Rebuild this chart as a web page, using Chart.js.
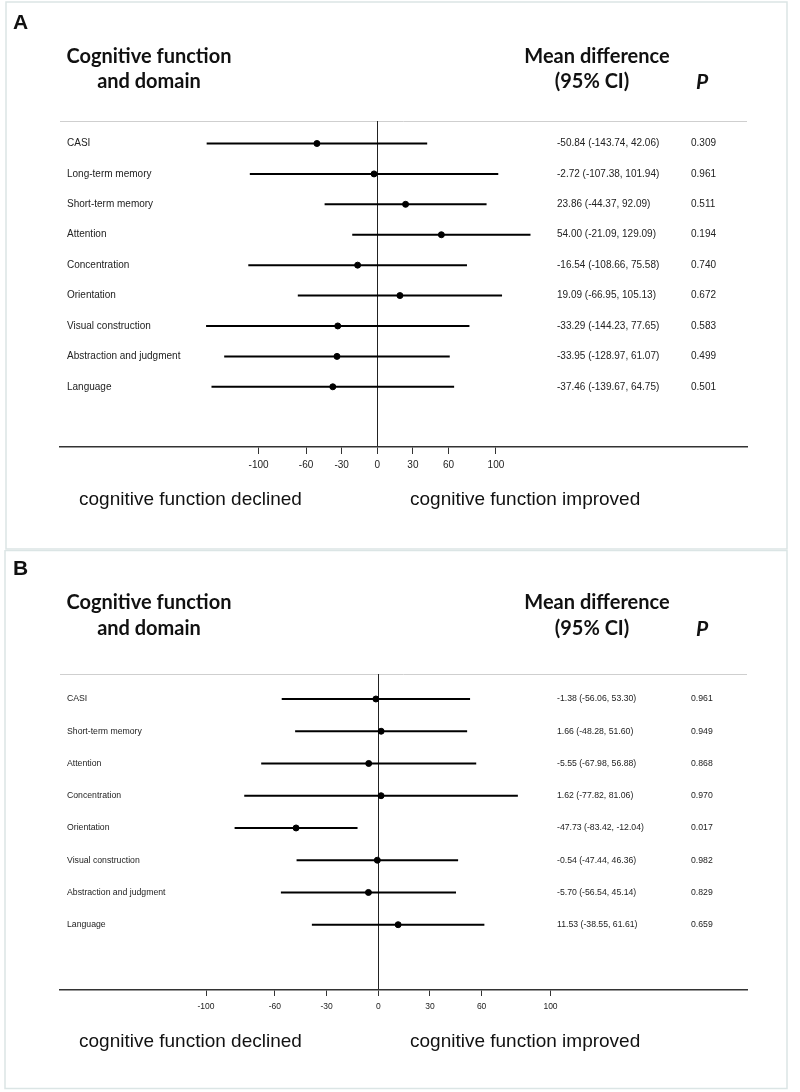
<!DOCTYPE html>
<html>
<head>
<meta charset="utf-8">
<script src="https://cdn.jsdelivr.net/npm/chart.js@4"></script>
<style>
    body { margin: 0; background: #fff; }
    canvas { position: absolute; left: 0; }
</style>
</head>
<body>
<canvas id="chartA" width="800" height="550" style="top:0"></canvas>
<canvas id="chartB" width="800" height="542" style="top:550px"></canvas>
<script>
// Panel A data
const domainsA = ['CASI', 'Long-term memory', 'Short-term memory', 'Attention', 'Concentration', 'Orientation', 'Visual construction', 'Abstraction and judgment', 'Language'];
const meanA = [-50.84, -2.72, 23.86, 54.00, -16.54, 19.09, -33.29, -33.95, -37.46];
const lowerA = [-143.74, -107.38, -44.37, -21.09, -108.66, -66.95, -144.23, -128.97, -139.67];
const upperA = [42.06, 101.94, 92.09, 129.09, 75.58, 105.13, 77.65, 61.07, 64.75];
const pA = ['0.309', '0.961', '0.511', '0.194', '0.740', '0.672', '0.583', '0.499', '0.501'];

// Panel B data
const domainsB = ['CASI', 'Short-term memory', 'Attention', 'Concentration', 'Orientation', 'Visual construction', 'Abstraction and judgment', 'Language'];
const meanB = [-1.38, 1.66, -5.55, 1.62, -47.73, -0.54, -5.70, 11.53];
const lowerB = [-56.06, -48.28, -67.98, -77.82, -83.42, -47.44, -56.54, -38.55];
const upperB = [53.30, 51.60, 56.88, 81.06, -12.04, 46.36, 45.14, 61.61];
const pB = ['0.961', '0.949', '0.868', '0.970', '0.017', '0.982', '0.829', '0.659'];

const xTicks = [-100, -60, -30, 0, 30, 60, 100];

function fmt(v) { return v.toFixed(2); }

function makePanel(canvasId, o) {
    // one short line per row for the CI, drawn on the linear scales
    const ciSets = o.domains.map((d, i) => ({
        type: 'line',
        data: [{ x: o.lower[i], y: i }, { x: o.upper[i], y: i }],
        borderColor: '#000',
        borderWidth: 2,
        pointRadius: 0,
        order: 1
    }));

    const pointSet = {
        type: 'scatter',
        data: o.mean.map((m, i) => ({ x: m, y: i })),
        backgroundColor: '#000',
        borderColor: '#000',
        pointStyle: 'circle',
        pointRadius: 3,
        order: 0
    };

    const textPlugin = {
        id: 'forestText',
        beforeDraw(chart) {
            const ctx = chart.ctx;
            ctx.save();
            ctx.strokeStyle = '#dbe5e5';
            ctx.lineWidth = 1.5;
            ctx.strokeRect(o.box[0], o.box[1], o.box[2], o.box[3]);
            // header rule
            const a = chart.chartArea;
            ctx.strokeStyle = '#cfcfcf';
            ctx.lineWidth = 1;
            ctx.beginPath();
            ctx.moveTo(a.left, a.top + 0.5);
            ctx.lineTo(a.right, a.top + 0.5);
            ctx.stroke();
            ctx.restore();
        },
        afterDraw(chart) {
            const ctx = chart.ctx;
            const y = chart.scales.y;
            ctx.save();
            ctx.fillStyle = '#111';
            ctx.textBaseline = 'middle';

            // panel letter
            ctx.textAlign = 'left';
            ctx.font = 'bold 21px "Liberation Sans"';
            ctx.fillText(o.letter, 13, o.letterY);

            // column headings
            ctx.textAlign = 'center';
            ctx.font = 'bold 20px Lato';
            ctx.fillText('Cognitive function', 149, o.headY1);
            ctx.fillText('and domain', 149, o.headY2);
            ctx.fillText('Mean difference', 597, o.headY1);
            ctx.fillText('(95% CI)', 592, o.headY2);
            ctx.font = 'italic bold 21px Lato';
            ctx.fillText('P', 702, o.headY2);

            // row text
            ctx.fillStyle = '#222';
            ctx.textAlign = 'left';
            ctx.font = o.rowFont + 'px "Liberation Sans"';
            o.domains.forEach((d, i) => {
                const py = y.getPixelForValue(i);
                ctx.fillText(d, 67, py);
                ctx.fillText(`${fmt(o.mean[i])} (${fmt(o.lower[i])}, ${fmt(o.upper[i])})`, 557, py);
                ctx.fillText(o.p[i], 691, py);
            });

            // direction captions
            ctx.fillStyle = '#111';
            ctx.font = '19px "Liberation Sans"';
            ctx.fillText('cognitive function declined', 79, o.captionY);
            ctx.fillText('cognitive function improved', 410, o.captionY);
            ctx.restore();
        }
    };

    return new Chart(document.getElementById(canvasId), {
        data: { datasets: [pointSet, ...ciSets] },
        options: {
            responsive: false,
            animation: false,
            layout: { padding: o.padding },
            plugins: { legend: { display: false }, tooltip: { enabled: false } },
            scales: {
                x: {
                    type: 'linear',
                    min: o.xMin,
                    max: o.xMax,
                    afterBuildTicks: axis => { axis.ticks = xTicks.map(v => ({ value: v })); },
                    afterFit: axis => { axis.height = 30; },
                    border: { display: true, color: '#333', width: 1.5 },
                    grid: {
                        color: c => (c.tick && c.tick.value === 0 ? '#222' : 'rgba(0,0,0,0)'),
                        tickColor: '#333',
                        tickLength: o.tickLen,
                        lineWidth: 1
                    },
                    ticks: {
                        color: '#222',
                        padding: o.tickPad,
                        maxRotation: 0,
                        autoSkip: false,
                        font: { family: 'Liberation Sans', size: o.tickFont },
                        callback: v => String(v)
                    }
                },
                y: {
                    type: 'linear',
                    display: false,
                    reverse: true,
                    min: o.yMin,
                    max: o.yMax
                }
            }
        },
        plugins: [textPlugin]
    });
}

makePanel('chartA', {
    domains: domainsA, mean: meanA, lower: lowerA, upper: upperA, p: pA,
    letter: 'A', letterY: 23, headY1: 57, headY2: 82, captionY: 500,
    box: [6, 2, 781, 547],
    padding: { top: 121, left: 60, right: 53, bottom: 73 },
    xMin: -267.3, xMax: 311.5, yMin: -0.74, yMax: 9.98,
    rowFont: 10, tickFont: 10, tickLen: 7, tickPad: 5
});

makePanel('chartB', {
    domains: domainsB, mean: meanB, lower: lowerB, upper: upperB, p: pB,
    letter: 'B', letterY: 19, headY1: 53, headY2: 79, captionY: 492,
    box: [5, 0.5, 782, 538],
    padding: { top: 124, left: 60, right: 53, bottom: 72 },
    xMin: -184.8, xMax: 214.1, yMin: -0.775, yMax: 9.025,
    rowFont: 8.7, tickFont: 8.5, tickLen: 6, tickPad: 6
});
</script>
</body>
</html>
